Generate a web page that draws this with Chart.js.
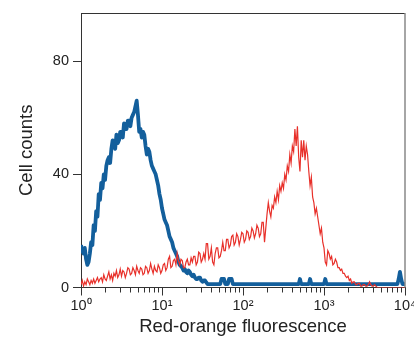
<!DOCTYPE html>
<html>
<head>
<meta charset="utf-8">
<script src="https://cdn.jsdelivr.net/npm/chart.js@4"></script>
<style>
  html, body { margin: 0; padding: 0; background: #fff; }
  #wrap { width: 414px; height: 340px; }
</style>
</head>
<body>
<div id="wrap"><canvas id="histo" width="414" height="340"></canvas></div>
<script>
// log-binned channels, 64 per decade from 10^0 to 10^4 (257 bins)
const channelsPerDecade = 64;
const decadeTicks = [1, 10, 100, 1000, 10000];
const decadeLabels = ['10\u2070', '10\u00b9', '10\u00b2', '10\u00b3', '10\u2074'];
const countTicks = [0, 40, 80];

// control (blue, thick)
const blueCounts = [
  15, 13, 12, 14, 10, 8, 9, 12, 16, 15, 22, 20, 27, 25, 33, 31,
  37, 35, 40, 38, 43, 45, 46, 44, 49, 52, 51, 49, 54, 51, 52, 55,
  55, 53, 58, 56, 56, 59, 59, 57, 60, 61, 62, 64, 66, 61, 55, 56,
  53, 55, 54, 50, 47, 49, 48, 45, 43, 42, 41, 40, 38, 36, 33, 31,
  28, 26, 24, 23, 22, 20, 18, 17, 16, 14, 13, 12, 11, 9, 8, 7.5,
  7, 6, 6.5, 5.5, 5, 6, 5.5, 4.5, 4, 4.5, 3.5, 3, 3, 3.5, 3.5, 2.5,
  2, 2.5, 2.5, 1.8, 1.2, 1.2, 1.2, 1.2, 1.2, 1.2, 1.2, 1.2, 1.2, 1.2, 1.2, 3,
  3, 3, 1.2, 1.2, 1.2, 3, 3, 3, 1.2, 1.2, 1.2, 1.2, 1.2, 1.2, 1.2, 1.2,
  1.2, 1.2, 1.2, 1.2, 1.2, 1.2, 1.2, 1.2, 1.2, 1.2, 1.2, 1.2, 1.2, 1.2, 1.2, 1.2,
  1.2, 1.2, 1.2, 1.2, 1.2, 1.2, 1.2, 1.2, 1.2, 1.2, 1.2, 1.2, 1.2, 1.2, 1.2, 1.2,
  1.2, 1.2, 1.2, 1.2, 1.2, 1.2, 1.2, 1.2, 1.2, 1.2, 1.2, 1.2, 1.2, 3, 1.2, 1.2,
  1.2, 1.2, 1.2, 1.2, 1.2, 3, 1.2, 1.2, 1.2, 1.2, 1.2, 1.2, 1.2, 1.2, 1.2, 1.2,
  1.2, 3, 1.2, 1.2, 1.2, 1.2, 1.2, 1.2, 1.2, 1.2, 1.2, 1.2, 1.2, 1.2, 1.2, 1.2,
  1.2, 1.2, 1.2, 1.2, 1.2, 1.2, 1.2, 1.2, 1.2, 1.2, 1.2, 1.2, 1.2, 1.2, 1.2, 1.2,
  1.2, 1.2, 1.2, 1.2, 1.2, 1.2, 1.2, 1.2, 1.2, 1.2, 1.2, 1.2, 1.2, 1.2, 1.2, 1.2,
  1.2, 1.2, 1.2, 1.2, 1.2, 1.2, 1.2, 1.2, 1.2, 1.2, 1.2, 3, 5.5, 3, 1.2, 1.2,
  1.2
];

// stained (red, thin)
const redCounts = [
  1, 2.5, 0.5, 2, 1, 3, 2, 1, 2.5, 1.5, 3, 1.5, 2.5, 3.5, 2, 3,
  3.5, 2, 4.5, 3, 2.5, 4, 5.5, 3, 4.5, 2.5, 5, 4, 6, 3.5, 4.5, 6.5,
  4, 6, 5.5, 3.5, 5, 7, 6.5, 4.5, 5, 7, 6, 4.5, 7.5, 6, 5, 7,
  6.5, 4.5, 5, 7.5, 7, 5, 6, 8.5, 6.5, 5, 7.5, 6, 5.5, 8, 7, 5,
  6, 8, 8.5, 6, 7, 10, 11, 7, 7.5, 9.5, 10, 8, 12, 9.5, 8, 10,
  9.5, 7, 7, 9, 10, 8, 8, 10.5, 9, 11, 11, 8, 9, 12.5, 12, 9,
  10, 12, 10, 15.5, 15.5, 10, 11, 14, 9, 8, 12, 14, 14, 10.5, 11, 13,
  16, 13, 13, 17, 17, 14, 15, 18, 18.5, 15, 16, 19, 18, 15, 17, 19.5,
  19, 16, 17, 20, 19.5, 17, 18, 21, 20, 17.5, 19, 22, 21, 18, 19, 23,
  23, 16, 21, 26, 30, 27, 25, 29, 28, 32, 30, 34, 31, 36, 34, 37,
  35, 40, 38, 43, 41, 47, 44, 50, 48, 56, 50, 57, 46, 41, 52, 46,
  52, 45, 50, 47, 41, 36, 39, 32, 30, 26, 28, 25, 22, 19, 21, 16,
  14, 9, 8, 13, 12, 10, 11, 8, 8.5, 10, 9, 7, 7, 6, 6.5, 5,
  5, 4, 3.5, 4, 2.5, 3, 1.5, 2, 2, 1, 1, 1.5, 1.5, 0.5, 0.5, 1,
  1, 0.5, 0.5, 1, 2, 1, 0.5, 0.5, 1, 0.5, 0, 0, 0, 0, 0, 0,
  0, 0, 0, 0, 0, 0, 0, 0, 0, 0, 0, 0, 0, 0, 0, 0,
  0
];

function toPoints(counts) {
  return counts.map((c, i) => ({ x: Math.pow(10, i / channelsPerDecade), y: c }));
}

const axisColor = '#333';
const textColor = '#222';
const fontFamily = '"Liberation Sans", Arial, Helvetica, sans-serif';

// frame on top/right and minor log ticks on the x axis
const framePlugin = {
  id: 'frame',
  afterDraw(chart) {
    const { ctx, chartArea: a } = chart;
    const xs = chart.scales.x;
    ctx.save();
    ctx.strokeStyle = axisColor;
    ctx.lineWidth = 1;
    ctx.beginPath();
    ctx.moveTo(a.left, a.top + 0.5);
    ctx.lineTo(a.right, a.top + 0.5);
    ctx.stroke();
    ctx.strokeStyle = '#888';
    ctx.lineWidth = 1.5;
    ctx.beginPath();
    ctx.moveTo(a.right, a.top);
    ctx.lineTo(a.right, a.bottom);
    ctx.stroke();
    ctx.strokeStyle = axisColor;
    ctx.lineWidth = 1;
    ctx.beginPath();
    for (let d = 0; d < decadeTicks.length - 1; d++) {
      for (let m = 2; m <= 9; m++) {
        const px = Math.round(xs.getPixelForValue(decadeTicks[d] * m)) + 0.5;
        ctx.moveTo(px, a.bottom);
        ctx.lineTo(px, a.bottom + 5);
      }
    }
    ctx.stroke();
    ctx.restore();
  }
};

new Chart('histo', {
  type: 'line',
  data: {
    datasets: [
      {
        label: 'Stained',
        data: toPoints(redCounts),
        borderColor: '#e8302a',
        borderWidth: 1.2,
        pointRadius: 0,
        tension: 0,
        order: 1
      },
      {
        label: 'Control',
        data: toPoints(blueCounts),
        borderColor: '#135f9c',
        borderWidth: 3.8,
        pointRadius: 0,
        tension: 0,
        borderJoinStyle: 'round',
        order: 2
      }
    ]
  },
  options: {
    responsive: false,
    animation: false,
    layout: { padding: { top: 13, right: 9, left: 0, bottom: 0 } },
    plugins: { legend: { display: false }, tooltip: { enabled: false } },
    scales: {
      x: {
        type: 'logarithmic',
        min: 1,
        max: 10000,
        afterBuildTicks(scale) {
          scale.ticks = decadeTicks.map(v => ({ value: v, major: true }));
        },
        afterFit(scale) {
          scale.height = 52.5;
          scale.paddingLeft = 0;
          scale.paddingRight = 0;
        },
        grid: { drawOnChartArea: false, tickLength: 8, tickColor: axisColor },
        border: { color: axisColor, width: 1 },
        ticks: {
          autoSkip: false,
          maxRotation: 0,
          padding: 2,
          color: textColor,
          font: { family: fontFamily, size: 14.5 },
          callback: (v) => {
            const k = decadeTicks.indexOf(v);
            return k >= 0 ? decadeLabels[k] : '';
          }
        },
        title: {
          display: true,
          text: 'Red-orange fluorescence',
          color: textColor,
          font: { family: fontFamily, size: 18.5 },
          padding: { top: 0, bottom: 2 }
        }
      },
      y: {
        min: 0,
        max: 97,
        afterBuildTicks(scale) {
          scale.ticks = countTicks.map(v => ({ value: v }));
        },
        afterFit(scale) { scale.width = 81; },
        grid: { drawOnChartArea: false, tickLength: 8, tickColor: axisColor },
        border: { color: axisColor, width: 1 },
        ticks: {
          padding: 4,
          color: textColor,
          font: { family: fontFamily, size: 14.5 }
        },
        title: {
          display: true,
          text: 'Cell counts',
          color: textColor,
          font: { family: fontFamily, size: 18.5 },
          padding: { top: 16, bottom: 0 }
        }
      }
    }
  },
  plugins: [framePlugin]
});
</script>
</body>
</html>
